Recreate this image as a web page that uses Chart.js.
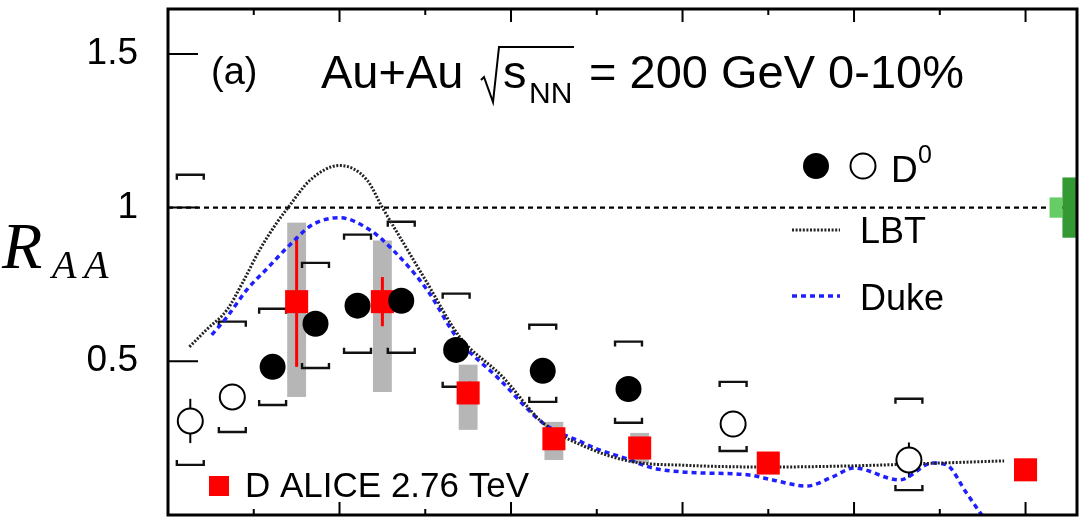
<!DOCTYPE html>
<html>
<head>
<meta charset="utf-8">
<script src="https://cdn.jsdelivr.net/npm/chart.js@4.4.1/dist/chart.umd.min.js"></script>
<style>
  html, body { margin: 0; padding: 0; background: #fff; }
  #wrap { width: 1081px; height: 523px; position: relative; }
</style>
</head>
<body>
<div id="wrap"><canvas id="chartRaa"></canvas></div>
<script>
// ===== Dados =====
// STAR D0, pontos cheios
const d0CheioX = [1.22, 1.72, 2.21, 2.72, 3.36, 4.37, 5.37];
const d0CheioY = [0.482, 0.622, 0.681, 0.697, 0.537, 0.469, 0.410];
const d0CheioErr = [0.03, 0.03, 0.03, 0.03, 0.03, 0.03, 0.03];
const d0CheioSysAlto = [0.671, 0.820, 0.912, 0.954, 0.720, 0.619, 0.564];
const d0CheioSysBaixo = [0.358, 0.478, 0.528, 0.528, 0.417, 0.368, 0.300];

// STAR D0, pontos abertos
const d0AbertoX = [0.26, 0.75, 6.59, 8.64];
const d0AbertoY = [0.306, 0.384, 0.296, 0.179];
const d0AbertoErr = [0.072, 0.03, 0.03, 0.057];
const d0AbertoSysAlto = [1.107, 0.629, 0.433, 0.378];
const d0AbertoSysBaixo = [0.163, 0.270, 0.208, 0.081];

// D ALICE 2.76 TeV
const aliceX = [1.5, 2.5, 3.5, 4.5, 5.5, 7.0, 10.0];
const aliceY = [0.694, 0.694, 0.397, 0.248, 0.218, 0.169, 0.147];
const aliceErr = [0.212, 0.080, 0.03, 0.03, 0.03, 0.03, 0.03];
const aliceSysAlto = [0.951, 0.893, 0.489, 0.303, 0.267, 0.190, 0.170];
const aliceSysBaixo = [0.384, 0.400, 0.277, 0.179, 0.169, 0.150, 0.125];

// Curva LBT
const lbtX = [0.25, 0.45, 0.69, 0.87, 1.07, 1.27, 1.40, 1.66, 2.0, 2.32, 2.5, 2.70, 3.02, 3.40, 3.9, 4.37, 4.9, 5.42, 6.0, 7.0, 8.0, 9.0, 9.75];
const lbtY = [0.547, 0.603, 0.668, 0.756, 0.863, 0.951, 1.0, 1.09, 1.137, 1.09, 1.0, 0.906, 0.756, 0.58, 0.45, 0.30, 0.218, 0.173, 0.162, 0.156, 0.160, 0.169, 0.176];

// Curva Duke
const dukeX = [0.51, 0.69, 0.92, 1.15, 1.40, 1.69, 2.0, 2.35, 2.62, 3.02, 3.37, 3.87, 4.37, 4.84, 5.03, 5.35, 5.65, 6.0, 6.2, 6.78, 7.05, 7.45, 7.75, 8.0, 8.53, 8.92, 9.08, 9.31, 9.49, 9.6];
const dukeY = [0.586, 0.645, 0.733, 0.80, 0.873, 0.945, 0.967, 0.928, 0.863, 0.733, 0.577, 0.44, 0.30, 0.235, 0.212, 0.183, 0.153, 0.14, 0.137, 0.13, 0.114, 0.094, 0.124, 0.153, 0.114, 0.169, 0.163, 0.072, 0.0, -0.04];

// Incerteza de normalização (caixa verde em R=1)
const normEscuro = 0.098;
const normClaro = 0.033;

// Marcas dos eixos
const xTicksMaiores = [2, 4, 6, 8, 10];
const xTicksMenores = [1, 3, 5, 7, 9];
const yTicksMaiores = [0.5, 1, 1.5];
const yRotulos = ['0.5', '1', '1.5'];
const yTicksMenores = [0.1, 0.2, 0.3, 0.4, 0.6, 0.7, 0.8, 0.9, 1.1, 1.2, 1.3, 1.4, 1.6];

const FONTE = '"Liberation Sans", Arial, Helvetica, sans-serif';
const pares = (xs, ys) => xs.map((v, i) => ({ x: v, y: ys[i] }));

function colchete(ctx, px, py, meia, gancho) {
    ctx.beginPath();
    ctx.moveTo(px - meia, py + gancho);
    ctx.lineTo(px - meia, py);
    ctx.lineTo(px + meia, py);
    ctx.lineTo(px + meia, py + gancho);
    ctx.stroke();
}

const decoracao = {
    id: 'decoracao',
    beforeDatasetsDraw(chart) {
        const { ctx, chartArea: a, scales: { x, y } } = chart;
        ctx.save();
        ctx.beginPath();
        ctx.rect(a.left, a.top, a.right - a.left, a.bottom - a.top);
        ctx.clip();

        // caixas sistemáticas ALICE
        ctx.fillStyle = '#b6b6b6';
        aliceX.forEach((v, i) => {
            const x0 = x.getPixelForValue(v - 0.11), x1 = x.getPixelForValue(v + 0.11);
            const y0 = y.getPixelForValue(aliceSysAlto[i]), y1 = y.getPixelForValue(aliceSysBaixo[i]);
            ctx.fillRect(x0, y0, x1 - x0, y1 - y0);
        });

        // linha de referência R = 1
        ctx.strokeStyle = '#000';
        ctx.lineWidth = 2.2;
        ctx.setLineDash([5, 4]);
        ctx.beginPath();
        ctx.moveTo(a.left, y.getPixelForValue(1));
        ctx.lineTo(a.right, y.getPixelForValue(1));
        ctx.stroke();
        ctx.setLineDash([]);

        // barras de erro estatístico ALICE
        ctx.strokeStyle = '#ff0000';
        ctx.lineWidth = 3;
        aliceX.forEach((v, i) => {
            const px = x.getPixelForValue(v);
            ctx.beginPath();
            ctx.moveTo(px, y.getPixelForValue(aliceY[i] + aliceErr[i]));
            ctx.lineTo(px, y.getPixelForValue(aliceY[i] - aliceErr[i]));
            ctx.stroke();
        });

        // erros estatísticos STAR
        ctx.strokeStyle = '#000';
        ctx.lineWidth = 2;
        const errVert = (xs, ys, es) => xs.forEach((v, i) => {
            const px = x.getPixelForValue(v);
            ctx.beginPath();
            ctx.moveTo(px, y.getPixelForValue(ys[i] + es[i]));
            ctx.lineTo(px, y.getPixelForValue(ys[i] - es[i]));
            ctx.stroke();
        });
        errVert(d0CheioX, d0CheioY, d0CheioErr);
        errVert(d0AbertoX, d0AbertoY, d0AbertoErr);

        // colchetes sistemáticos STAR
        ctx.lineWidth = 2.4;
        ctx.strokeStyle = '#111';
        const meia = x.getPixelForValue(0.157) - x.getPixelForValue(0);
        const sys = (xs, alto, baixo) => xs.forEach((v, i) => {
            const px = x.getPixelForValue(v);
            colchete(ctx, px, y.getPixelForValue(alto[i]), meia, 5);
            colchete(ctx, px, y.getPixelForValue(baixo[i]), meia, -5);
        });
        sys(d0CheioX, d0CheioSysAlto, d0CheioSysBaixo);
        sys(d0AbertoX, d0AbertoSysAlto, d0AbertoSysBaixo);
        ctx.restore();
    },
    afterDatasetsDraw(chart) {
        const { ctx, chartArea: a, scales: { x, y } } = chart;
        ctx.save();

        // caixa verde de normalização
        ctx.fillStyle = '#66cc66';
        ctx.fillRect(x.getPixelForValue(10.28), y.getPixelForValue(1 + normClaro),
            x.getPixelForValue(10.43) - x.getPixelForValue(10.28),
            y.getPixelForValue(1 - normClaro) - y.getPixelForValue(1 + normClaro));
        ctx.fillStyle = '#339933';
        ctx.fillRect(x.getPixelForValue(10.43), y.getPixelForValue(1 + normEscuro),
            a.right - x.getPixelForValue(10.43),
            y.getPixelForValue(1 - normEscuro) - y.getPixelForValue(1 + normEscuro));

        // marcas dos eixos (para dentro)
        ctx.strokeStyle = '#000';
        ctx.lineWidth = 2;
        ctx.beginPath();
        y.ticks.forEach(t => {
            const py = y.getPixelForValue(t.value);
            const comp = yTicksMaiores.includes(t.value) ? 30 : 15;
            ctx.moveTo(a.left, py);
            ctx.lineTo(a.left + comp, py);
        });
        x.ticks.forEach(t => {
            const px = x.getPixelForValue(t.value);
            const comp = xTicksMaiores.includes(t.value) ? 13 : 6;
            ctx.moveTo(px, a.bottom);
            ctx.lineTo(px, a.bottom - comp);
            ctx.moveTo(px, a.top);
            ctx.lineTo(px, a.top + comp);
        });
        ctx.stroke();

        // moldura
        ctx.lineWidth = 3;
        ctx.strokeRect(a.left, a.top, a.right - a.left, a.bottom - a.top);

        // título
        ctx.fillStyle = '#000';
        ctx.textBaseline = 'alphabetic';
        ctx.textAlign = 'left';
        ctx.font = `38px ${FONTE}`;
        ctx.fillText('(a)', 211, 84);
        ctx.font = `47px ${FONTE}`;
        ctx.fillText('Au+Au', 321, 88);
        ctx.fillText('s', 503, 88);
        ctx.fillText('= 200 GeV 0-10%', 589, 88);
        ctx.font = `30px ${FONTE}`;
        ctx.fillText('NN', 529, 103);
        ctx.lineWidth = 2;
        ctx.beginPath();
        ctx.moveTo(481, 80);
        ctx.lineTo(484, 77);
        ctx.lineTo(493, 102);
        ctx.lineTo(499, 47);
        ctx.lineTo(574, 47);
        ctx.stroke();

        // rótulo do eixo y
        ctx.font = `italic 66px "Liberation Serif", "DejaVu Serif", serif`;
        ctx.fillText('R', 2, 268);
        ctx.font = `italic 40px "Liberation Serif", "DejaVu Serif", serif`;
        ctx.fillText('A', 52, 278);
        ctx.fillText('A', 84, 278);

        // legenda
        ctx.beginPath();
        ctx.arc(816, 166, 13, 0, Math.PI * 2);
        ctx.fill();
        ctx.beginPath();
        ctx.arc(863, 166, 12.5, 0, Math.PI * 2);
        ctx.lineWidth = 2;
        ctx.stroke();
        ctx.font = `37px ${FONTE}`;
        ctx.fillText('D', 891, 182);
        ctx.font = `25px ${FONTE}`;
        ctx.fillText('0', 918, 163);

        ctx.strokeStyle = '#222';
        ctx.lineWidth = 3;
        ctx.setLineDash([2, 1.6]);
        ctx.beginPath();
        ctx.moveTo(792, 230);
        ctx.lineTo(840, 230);
        ctx.stroke();
        ctx.strokeStyle = '#1f1fff';
        ctx.lineWidth = 3.5;
        ctx.setLineDash([5, 4]);
        ctx.beginPath();
        ctx.moveTo(792, 296);
        ctx.lineTo(840, 296);
        ctx.stroke();
        ctx.setLineDash([]);
        ctx.font = `36px ${FONTE}`;
        ctx.fillText('LBT', 860, 243);
        ctx.fillText('Duke', 860, 310);

        ctx.fillStyle = '#ff0000';
        ctx.fillRect(209, 476, 20, 20);
        ctx.fillStyle = '#000';
        ctx.font = `35px ${FONTE}`;
        ctx.fillText('D ALICE 2.76 TeV', 245, 497);
        ctx.restore();
    }
};

new Chart(document.getElementById('chartRaa'), {
    type: 'scatter',
    data: {
        datasets: [
            {
                label: 'D0 cheio',
                data: pares(d0CheioX, d0CheioY),
                pointStyle: 'circle',
                pointRadius: 13,
                backgroundColor: '#000',
                borderWidth: 0,
                order: 1,
            },
            {
                label: 'D0 aberto',
                data: pares(d0AbertoX, d0AbertoY),
                pointStyle: 'circle',
                pointRadius: 12.5,
                backgroundColor: '#fff',
                borderColor: '#000',
                borderWidth: 2,
                order: 1,
            },
            {
                label: 'D ALICE 2.76 TeV',
                data: pares(aliceX, aliceY),
                pointStyle: 'rect',
                pointRadius: 16.3,
                backgroundColor: '#ff0000',
                borderWidth: 0,
                order: 2,
            },
            {
                label: 'LBT',
                data: pares(lbtX, lbtY),
                showLine: true,
                pointRadius: 0,
                borderColor: '#222',
                borderWidth: 3,
                borderDash: [2, 1.6],
                cubicInterpolationMode: 'monotone',
                order: 3,
            },
            {
                label: 'Duke',
                data: pares(dukeX, dukeY),
                showLine: true,
                pointRadius: 0,
                borderColor: '#1f1fff',
                borderWidth: 3.5,
                borderDash: [5, 4],
                cubicInterpolationMode: 'monotone',
                order: 3,
            }
        ]
    },
    options: {
        responsive: true,
        maintainAspectRatio: false,
        animation: false,
        events: [],
        layout: { autoPadding: false, padding: { top: 9, right: 4, left: 0, bottom: 0 } },
        plugins: {
            legend: { display: false },
            tooltip: { enabled: false }
        },
        scales: {
            x: {
                type: 'linear',
                min: 0,
                max: 10.6,
                grid: { display: false },
                border: { display: false },
                ticks: { display: false },
                afterBuildTicks: s => {
                    s.ticks = [...xTicksMenores, ...xTicksMaiores].sort((p, q) => p - q).map(v => ({ value: v }));
                },
                afterFit: s => { s.height = 8; s.paddingLeft = 0; s.paddingRight = 0; }
            },
            y: {
                type: 'linear',
                min: 0,
                max: 1.646,
                grid: { display: false },
                border: { display: false },
                ticks: {
                    autoSkip: false,
                    color: '#000',
                    padding: 22,
                    font: { family: FONTE, size: 37 },
                    callback: v => {
                        const i = yTicksMaiores.indexOf(v);
                        return i >= 0 ? yRotulos[i] : null;
                    }
                },
                afterBuildTicks: s => {
                    s.ticks = [...yTicksMenores, ...yTicksMaiores].sort((p, q) => p - q).map(v => ({ value: v }));
                },
                afterFit: s => { s.width = 168; s.paddingTop = 0; s.paddingBottom = 0; }
            }
        }
    },
    plugins: [decoracao]
});
</script>
</body>
</html>
